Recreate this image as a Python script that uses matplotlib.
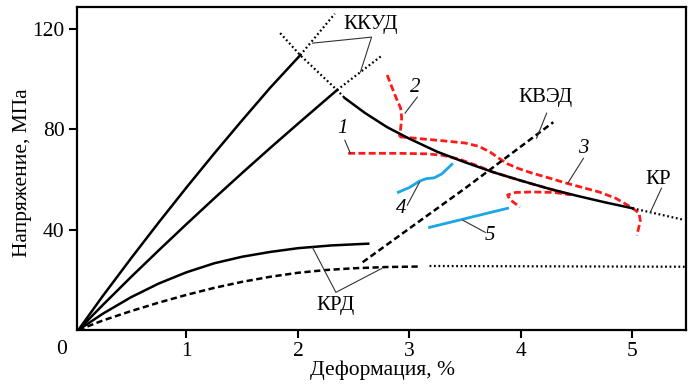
import matplotlib
matplotlib.use('Agg')
import matplotlib.pyplot as plt

plt.rcParams['font.family'] = ['Liberation Serif', 'DejaVu Serif']

# KKUD lines (two loading curves) and their dotted continuations
kkud_a_x = [0.03, 0.25, 0.5, 0.75, 1.0, 1.25, 1.5, 1.75, 2.02]
kkud_a_y = [0.0, 13.6, 28.4, 42.8, 56.8, 70.4, 83.6, 96.5, 109.5]
kkud_a_dot_x = [2.02, 2.33]
kkud_a_dot_y = [109.5, 126.0]

kkud_b_x = [0.03, 0.25, 0.5, 0.75, 1.0, 1.25, 1.5, 1.75, 2.0, 2.35]
kkud_b_y = [0.0, 10.0, 21.0, 31.7, 42.2, 52.5, 62.6, 72.5, 82.2, 95.6]
kkud_b_dot_x = [2.35, 2.76]
kkud_b_dot_y = [95.6, 109.6]

# KR (fracture curve)
kr_x = [2.42, 2.6, 2.8, 3.0, 3.25, 3.5, 3.75, 4.0, 4.25, 4.5, 4.75, 5.0]
kr_y = [92.4, 86.5, 80.8, 76.2, 71.0, 66.8, 62.9, 59.5, 56.3, 53.5, 50.9, 48.5]
kr_dot1_x = [1.84, 2.02, 2.35, 2.42]
kr_dot1_y = [118.3, 109.5, 95.6, 92.4]
kr_dot2_x = [5.0, 5.45]
kr_dot2_y = [48.5, 44.0]

# KRD curves
krd_x = [0.03, 0.25, 0.5, 0.75, 1.0, 1.25, 1.5, 1.75, 2.0, 2.3, 2.63]
krd_y = [0.0, 6.5, 13.0, 18.5, 23.0, 26.6, 29.2, 31.1, 32.6, 33.7, 34.4]
krd_d_x = [0.03, 0.25, 0.5, 0.75, 1.0, 1.25, 1.5, 1.75, 2.0, 2.25, 2.5, 2.8, 3.1]
krd_d_y = [0.0, 3.8, 7.5, 10.9, 14.0, 16.8, 19.2, 21.2, 22.8, 23.9, 24.6, 25.1, 25.3]
krd_dot_x = [3.18, 5.49]
krd_dot_y = [25.5, 25.2]

# KVED
kved_x = [2.58, 3.0, 3.5, 4.29]
kved_y = [27.0, 40.5, 56.5, 82.8]

# red test curves 1-3
c1_x = [2.45, 2.9, 3.15, 3.3, 3.45, 3.6, 3.75, 4.0, 4.25, 4.44,
        4.3, 4.1, 3.95, 3.88, 3.90, 3.99]
c1_y = [70.4, 70.4, 70.2, 69.6, 68.0, 65.6, 62.9, 59.5, 56.3, 53.9,
        54.8, 55.0, 54.8, 53.8, 52.0, 49.0]
c2_x = [2.80, 2.84, 2.88, 2.92, 2.93, 2.92, 2.91]
c2_y = [101.6, 97.0, 92.5, 88.5, 84.5, 80.0, 77.0]
c3_x = [2.91, 3.1, 3.3, 3.5, 3.62, 3.72, 3.8, 3.88, 3.98, 4.1, 4.25, 4.4,
        4.55, 4.7, 4.85, 5.0, 5.06, 5.07, 5.04]
c3_y = [77.0, 76.2, 75.4, 74.5, 73.2, 71.0, 68.5, 66.2, 64.3, 62.5, 60.6, 58.6,
        56.8, 55.0, 52.5, 48.6, 46.5, 43.5, 37.7]

# blue curves 4, 5
c4_x = [2.90, 3.0, 3.09, 3.15, 3.22, 3.29, 3.38]
c4_y = [54.9, 56.8, 59.3, 60.3, 60.6, 62.2, 66.0]
c5_x = [3.18, 3.88]
c5_y = [40.9, 48.5]

fig = plt.figure(figsize=(6.88, 3.85), dpi=100)
ax = fig.add_axes([77 / 688, 55 / 385, 609 / 688, 323 / 385])

blk = 'black'
red = '#ff1a1a'
blue = '#1ba6e4'
dash = (0, (2.5, 1.4))
dot = (0, (0.8, 1.2))
rdash = (0, (2.5, 1.2))

ax.plot(c1_x, c1_y, color=red, lw=2, ls=rdash, zorder=2)
ax.plot(c2_x, c2_y, color=red, lw=2, ls=rdash, zorder=2)
ax.plot(c3_x, c3_y, color=red, lw=2, ls=rdash, zorder=2)
ax.plot(c4_x, c4_y, color=blue, lw=2, zorder=2)
ax.plot(c5_x, c5_y, color=blue, lw=2, zorder=2)

ax.plot(kkud_a_x, kkud_a_y, color=blk, lw=1.8, zorder=3)
ax.plot(kkud_b_x, kkud_b_y, color=blk, lw=1.8, zorder=3)
ax.plot(kkud_a_dot_x, kkud_a_dot_y, color=blk, lw=1.6, ls=dot, zorder=3)
ax.plot(kkud_b_dot_x, kkud_b_dot_y, color=blk, lw=1.6, ls=dot, zorder=3)
ax.plot(kr_x, kr_y, color=blk, lw=1.8, zorder=3)
ax.plot(kr_dot1_x, kr_dot1_y, color=blk, lw=1.6, ls=dot, zorder=3)
ax.plot(kr_dot2_x, kr_dot2_y, color=blk, lw=1.6, ls=dot, zorder=3)
ax.plot(krd_x, krd_y, color=blk, lw=1.8, zorder=3)
ax.plot(krd_d_x, krd_d_y, color=blk, lw=1.8, ls=dash, zorder=3)
ax.plot(krd_dot_x, krd_dot_y, color=blk, lw=1.6, ls=dot, zorder=3)
ax.plot(kved_x, kved_y, color=blk, lw=1.8, ls=dash, zorder=3)

# leader lines and labels
lead = dict(color='#333333', lw=0.8, zorder=4)
ax.plot([2.13, 2.66, 2.56], [114.3, 116.7, 102.8], **lead)
ax.plot([2.13, 2.34, 2.75], [32.9, 15.0, 24.5], **lead)
ax.plot([4.23, 4.14], [86.4, 76.4], **lead)
ax.plot([5.26, 5.16], [56.5, 46.9], **lead)
ax.plot([2.42, 2.47], [75.6, 70.4], **lead)
ax.plot([3.07, 2.96], [92.8, 86.4], **lead)
ax.plot([4.56, 4.42], [68.4, 58.5], **lead)
ax.plot([2.98, 3.09], [49.7, 58.9], **lead)
ax.plot([3.68, 3.48], [38.9, 43.7], **lead)

fs = 15
fl = 15.5
ax.text(2.65, 121.9, 'ККУД', fontsize=fs, ha='center', va='center')
ax.text(2.34, 9.8, 'КРД', fontsize=fs, ha='center', va='center')
ax.text(4.22, 92.8, 'КВЭД', fontsize=fs, ha='center', va='center')
ax.text(5.23, 60.0, 'КР', fontsize=fs, ha='center', va='center')
for s, x, y in [('1', 2.40, 80.4), ('2', 3.05, 96.8), ('3', 4.56, 72.4),
                ('4', 2.93, 48.5), ('5', 3.72, 37.7)]:
    ax.text(x, y, s, fontsize=fs, style='italic', ha='center', va='center')

ax.set_xlim(0.018, 5.48)
ax.set_ylim(0, 128.7)
ax.set_xticks([1, 2, 3, 4, 5])
ax.set_yticks([40, 80, 120])
ax.tick_params(labelsize=fl, length=6, width=1.5, direction='out', pad=3)
for sp in ax.spines.values():
    sp.set_linewidth(1.6)

fig.text(62 / 688, 1 - 350 / 385, '0', fontsize=fl, ha='center', va='center')
fig.text(23 / 688, 1 - 173 / 385, 'Напряжение, МПа', fontsize=fl, rotation=90,
         ha='center', va='center')
fig.text(383 / 688, 1 - 370 / 385, 'Деформация, %', fontsize=fl,
         ha='center', va='center')

fig.savefig('out.png', dpi=100)
